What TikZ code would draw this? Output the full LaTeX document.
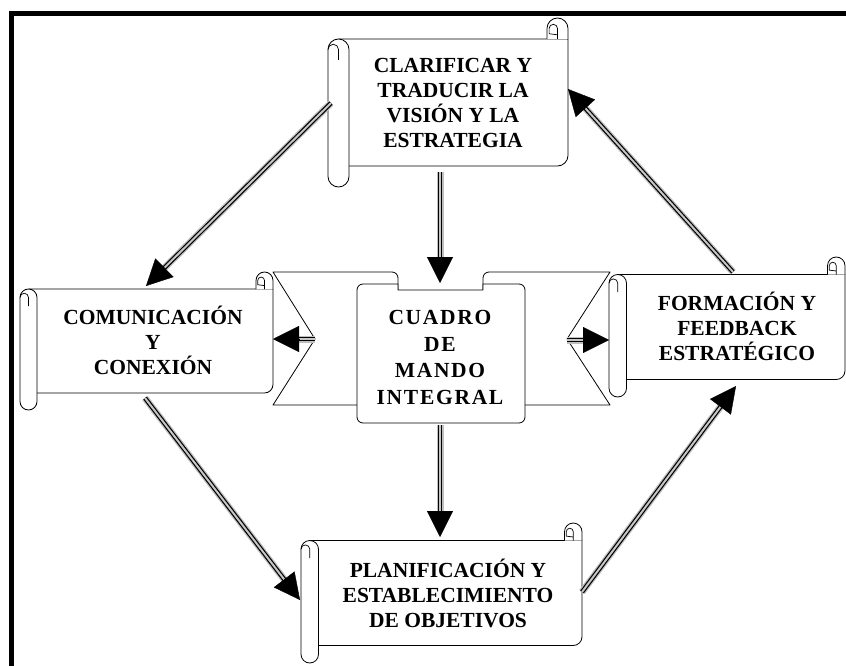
\documentclass[tikz,border=0pt]{standalone}
\usepackage{fontspec}
\setmainfont{Liberation Serif}
\newfontfamily\widefont[LetterSpace=8]{Liberation Serif}
\usetikzlibrary{arrows.meta,calc}

\tikzset{
  outline/.style={draw=black,line width=0.8pt,fill=white,line join=round},
  curl/.style={draw=black,line width=0.7pt},
  % node sits on the cap centre of its last line
  lbl/.style={align=center,inner sep=0pt,text height=14.3pt,text depth=0pt,font=\bfseries\fontsize{21.5}{25}\selectfont},
  shaft/.style={draw=black,line width=1.2pt,double=gray!45,double distance=2pt,preaction={draw=gray!50,line width=7pt}},
  head/.style={draw=black,line width=0.4pt,-{Triangle[length=26pt,width=26pt]}},
}

% scroll: left, top, right, bottom, roll size
\newcommand{\scrollshape}[5]{%
  \fill[white] ({#1+#5/2},{#2+#5}) rectangle ({#3},{#4-#5});
  \draw[outline,fill=none] ({#1+#5/2},{#2+#5}) -- ({#3},{#2+#5}) -- ({#3},{#4-#5-#5/2})
    arc[start angle=0,end angle=90,radius=#5/2] -- ({#1+#5},{#4-#5});
  \draw[outline] ({#3-#5},{#2+#5}) -- ({#3-#5},{#2+#5/2}) arc[start angle=180,end angle=360,radius=#5/2] -- ({#3},{#2+#5});
  \draw[curl] ({#3-#5/2},{#2+#5}) -- ({#3-#5/2},{#2+#5/2}) arc[start angle=0,end angle=-180,radius=#5/5] -- ++(0,{#5/4}) -- ({#3-#5/2},{#2+3*#5/4+#5/20});
  \draw[outline] (#1,{#2+1.5*#5}) arc[start angle=180,end angle=360,radius=#5/2] -- ({#1+#5},{#4-#5/2})
    arc[start angle=0,end angle=180,radius=#5/2] -- cycle;
  \draw[curl] ({#1+#5/2},{#2+2*#5}) -- ({#1+#5/2},{#2+1.5*#5}) arc[start angle=0,end angle=-180,radius=#5/4];
}

\begin{document}
\begin{tikzpicture}[x=1pt,y=-1pt]
  \useasboundingbox (0,0) rectangle (846,666);
  \draw[line width=5.5pt,line join=miter] (11.5,666) -- (11.5,13.5) -- (846,13.5);

  % ribbon behind the centre
  \draw[outline] (273,272) -- (392,272) arc[start angle=270,end angle=360,radius=6] -- (398,405) -- (273,405) -- (315,339) -- cycle;
  \draw[outline] (610,272) -- (489,272) arc[start angle=270,end angle=180,radius=6] -- (483,405) -- (610,405) -- (567,339) -- cycle;
  \draw[outline] (357,290) arc[start angle=180,end angle=270,radius=6] -- (398,284) -- (398,290) -- (483,290) -- (483,284) -- (519,284)
    arc[start angle=270,end angle=360,radius=6] -- (525,417) arc[start angle=0,end angle=90,radius=6] -- (363,423)
    arc[start angle=90,end angle=180,radius=6] -- cycle;

  % scrolls
  \scrollshape{328}{18}{568}{187}{21}
  \scrollshape{20}{272}{273}{410}{17}
  \scrollshape{609}{257}{845}{397}{17.5}
  \scrollshape{301}{523}{582}{663}{17.5}

  \node[lbl] (clar) at (453,140.7) {CLARIFICAR Y\\TRADUCIR LA\\VISIÓN Y LA\\ESTRATEGIA};
  \node[lbl] (com) at (153,367) {COMUNICACIÓN\\Y\\CONEXIÓN};
  \node[lbl,font=\widefont\bfseries\fontsize{21.5}{26.7}\selectfont] (cmi) at (440,397.5) {CUADRO\\DE\\MANDO\\INTEGRAL};
  \node[lbl] (form) at (737,353) {FORMACIÓN Y\\FEEDBACK\\ESTRATÉGICO};
  \node[lbl] (plan) at (448,620) {PLANIFICACIÓN Y\\ESTABLECIMIENTO\\DE OBJETIVOS};

  % arrow ends
  \coordinate (clar-w) at (331,103); \coordinate (com-n) at (146,286);
  \coordinate (clar-s) at (440,172); \coordinate (cmi-n) at (440,283);
  \coordinate (cmi-s) at (440,425); \coordinate (plan-n) at (440,537);
  \coordinate (com-s) at (145,398); \coordinate (plan-w) at (300,600);
  \coordinate (plan-e) at (582,592); \coordinate (form-s) at (736,386);
  \coordinate (form-n) at (733,272); \coordinate (clar-e) at (568,89);
  \coordinate (cmi-w) at (315,339); \coordinate (com-e) at (273,339);
  \coordinate (cmi-e) at (567,340); \coordinate (form-w) at (609,340);

  \draw[shaft] (clar-w) -- ($(com-n)!20pt!(clar-w)$); \draw[head] ($(com-n)!26pt!(clar-w)$) -- (com-n);
  \draw[shaft] (clar-s) -- ($(cmi-n)!20pt!(clar-s)$); \draw[head] ($(cmi-n)!26pt!(clar-s)$) -- (cmi-n);
  \draw[shaft] (cmi-s) -- ($(plan-n)!20pt!(cmi-s)$); \draw[head] ($(plan-n)!26pt!(cmi-s)$) -- (plan-n);
  \draw[shaft] (com-s) -- ($(plan-w)!20pt!(com-s)$); \draw[head] ($(plan-w)!26pt!(com-s)$) -- (plan-w);
  \draw[shaft] (plan-e) -- ($(form-s)!20pt!(plan-e)$); \draw[head] ($(form-s)!26pt!(plan-e)$) -- (form-s);
  \draw[shaft] (form-n) -- ($(clar-e)!20pt!(form-n)$); \draw[head] ($(clar-e)!26pt!(form-n)$) -- (clar-e);
  \draw[shaft] (cmi-w) -- ($(com-e)!20pt!(cmi-w)$); \draw[head] ($(com-e)!26pt!(cmi-w)$) -- (com-e);
  \draw[shaft] (cmi-e) -- ($(form-w)!20pt!(cmi-e)$); \draw[head] ($(form-w)!26pt!(cmi-e)$) -- (form-w);
\end{tikzpicture}
\end{document}
